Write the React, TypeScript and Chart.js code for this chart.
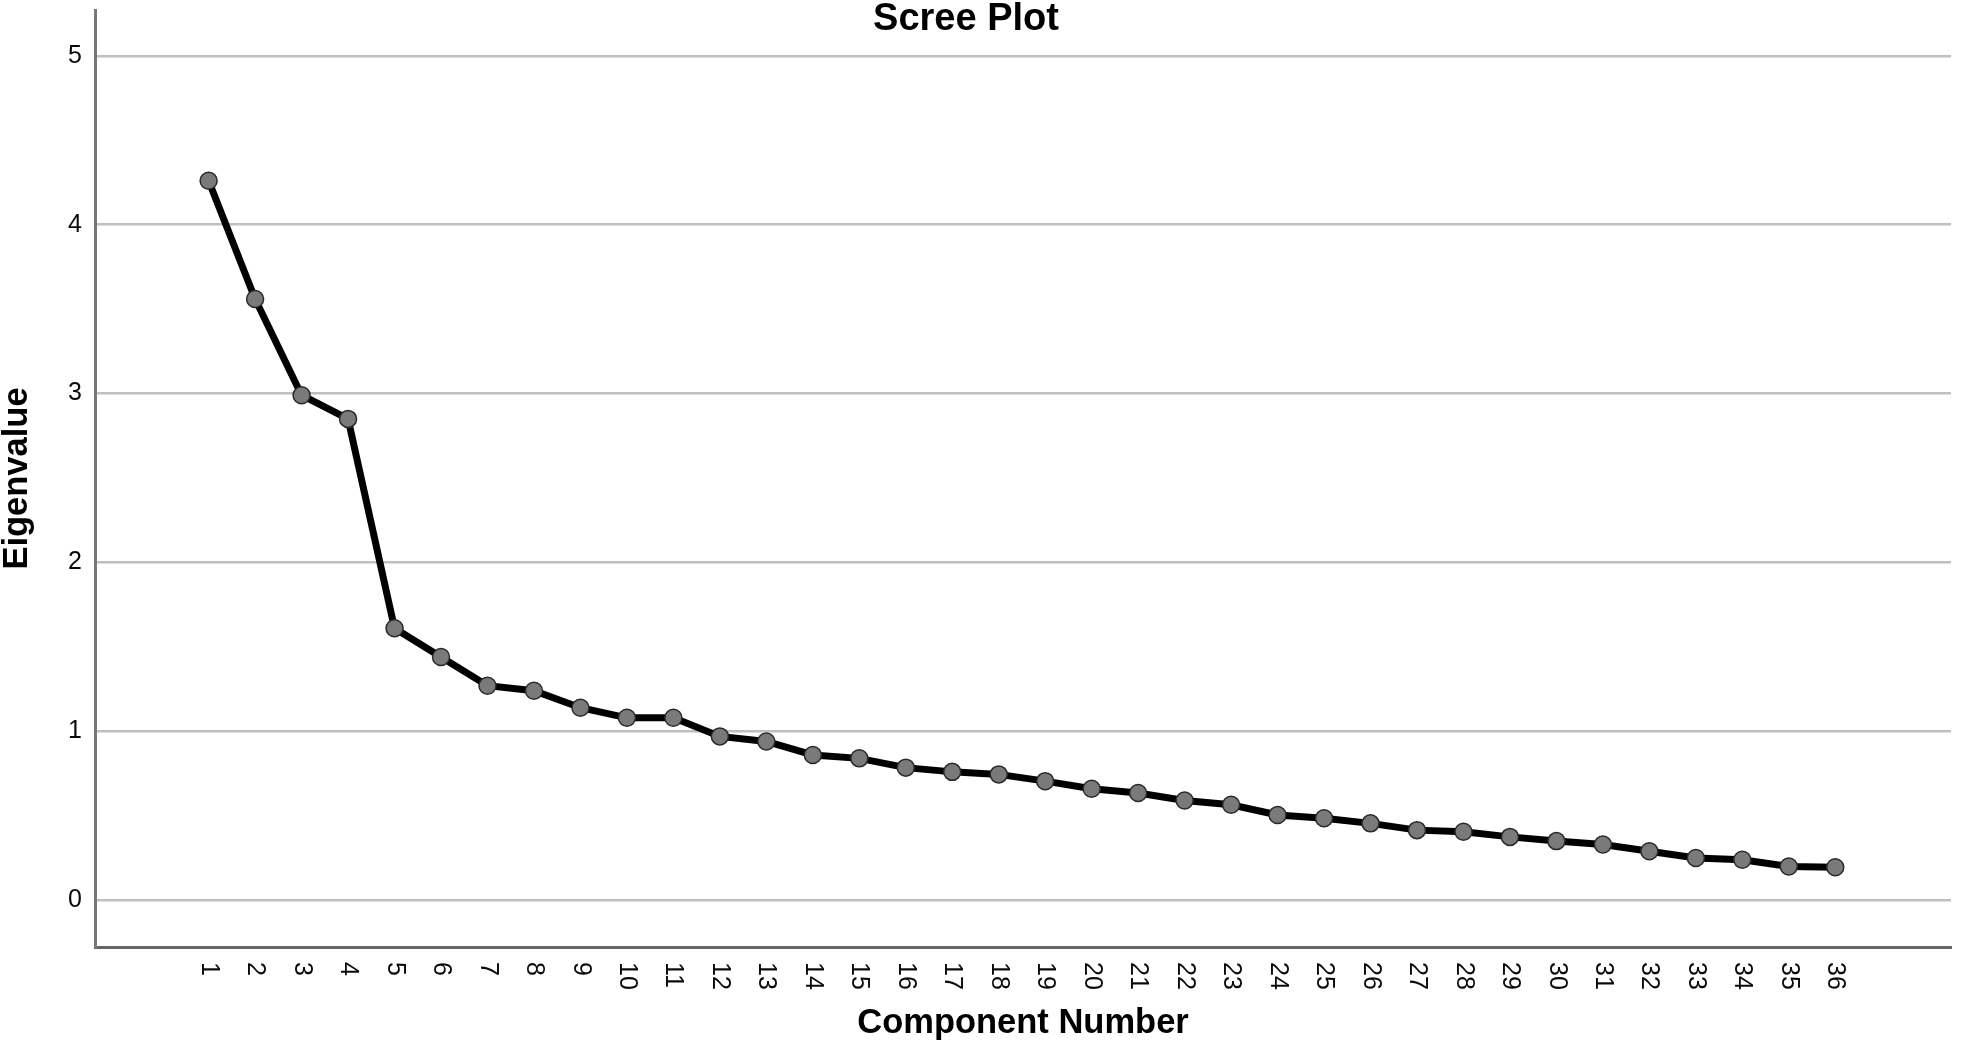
import React, { useEffect, useRef } from "react";
import { Chart, registerables } from "chart.js";

Chart.register(...registerables);

const components: number[] = Array.from({ length: 36 }, (_, i) => i + 1);
const eigenvalues: number[] = [
  4.26, 3.56, 2.99, 2.85, 1.61, 1.44, 1.27, 1.24, 1.14, 1.08, 1.08, 0.97,
  0.94, 0.86, 0.84, 0.785, 0.76, 0.745, 0.705, 0.66, 0.635, 0.59, 0.565, 0.505,
  0.485, 0.455, 0.415, 0.405, 0.375, 0.35, 0.33, 0.29, 0.25, 0.24, 0.2, 0.195,
];
const yTickValues: number[] = [0, 1, 2, 3, 4, 5];
const chartTitle = "Scree Plot";
const xTitle = "Component Number";
const yTitle = "Eigenvalue";

const FONT = "'Liberation Sans', Arial, Helvetica, sans-serif";

export default function App() {
  const ref = useRef<HTMLCanvasElement | null>(null);

  useEffect(() => {
    document.body.style.margin = "0";
    const canvas = ref.current;
    if (!canvas) return;

    const overlay = {
      id: "overlay",
      afterDraw(chart: any) {
        const ctx = chart.ctx as CanvasRenderingContext2D;
        const xs = chart.scales.x;
        ctx.save();
        ctx.fillStyle = "#0a0a0a";
        ctx.font = `25px ${FONT}`;
        ctx.textAlign = "left";
        ctx.textBaseline = "middle";
        for (const c of components) {
          const px = xs.getPixelForValue(c);
          ctx.save();
          ctx.translate(px, xs.top + 15);
          ctx.rotate(Math.PI / 2);
          ctx.fillText(String(c), 0, 0);
          ctx.restore();
        }
        ctx.fillStyle = "#000";
        ctx.font = `bold 38px ${FONT}`;
        ctx.textAlign = "center";
        ctx.textBaseline = "middle";
        ctx.fillText(chartTitle, 966, 20);
        ctx.restore();
      },
    };

    const chart = new Chart(canvas, {
      type: "line",
      data: {
        datasets: [
          {
            label: yTitle,
            data: components.map((c, i) => ({ x: c, y: eigenvalues[i] })),
            borderColor: "#000",
            borderWidth: 7,
            pointRadius: 8.5,
            pointBackgroundColor: "#7a7a7a",
            pointBorderColor: "#2a2a2a",
            pointBorderWidth: 1.5,
            tension: 0,
          },
        ],
      },
      options: {
        responsive: false,
        animation: false,
        layout: { padding: { top: 6, right: 4, left: 0, bottom: 0 } },
        plugins: {
          legend: { display: false },
          tooltip: { enabled: false },
          title: { display: false },
        },
        scales: {
          x: {
            type: "linear",
            min: -1.445,
            max: 38.49,
            grid: { display: false, drawTicks: false },
            border: { display: true, color: "#666", width: 3 },
            ticks: { display: false },
            afterFit: (scale: any) => {
              scale.height = 97;
              scale.paddingLeft = 0;
              scale.paddingRight = 0;
            },
            title: {
              display: true,
              text: xTitle,
              color: "#000",
              font: { family: FONT, size: 34.5, weight: "bold", lineHeight: 1 },
              padding: { top: 0, bottom: 3 },
            },
          },
          y: {
            type: "linear",
            min: -0.277,
            max: 5.271,
            afterBuildTicks: (scale: any) => {
              scale.ticks = yTickValues.map((v) => ({ value: v }));
            },
            afterFit: (scale: any) => {
              scale.width = 95;
              scale.paddingTop = 0;
              scale.paddingBottom = 0;
            },
            grid: { color: "#bfbfbf", lineWidth: 2.5, drawTicks: false },
            border: { display: true, color: "#777", width: 3 },
            ticks: {
              color: "#0a0a0a",
              padding: 13,
              font: { family: FONT, size: 25 },
            },
            title: {
              display: true,
              text: yTitle,
              color: "#000",
              font: { family: FONT, size: 34.5, weight: "bold", lineHeight: 1 },
              padding: { top: 0, bottom: 0 },
            },
          },
        },
      },
      plugins: [overlay],
    });

    return () => chart.destroy();
  }, []);

  return (
    <div style={{ width: 1961, height: 1044, overflow: "hidden", background: "#fff" }}>
      <canvas ref={ref} width={1961} height={1044} style={{ display: "block" }} />
    </div>
  );
}
